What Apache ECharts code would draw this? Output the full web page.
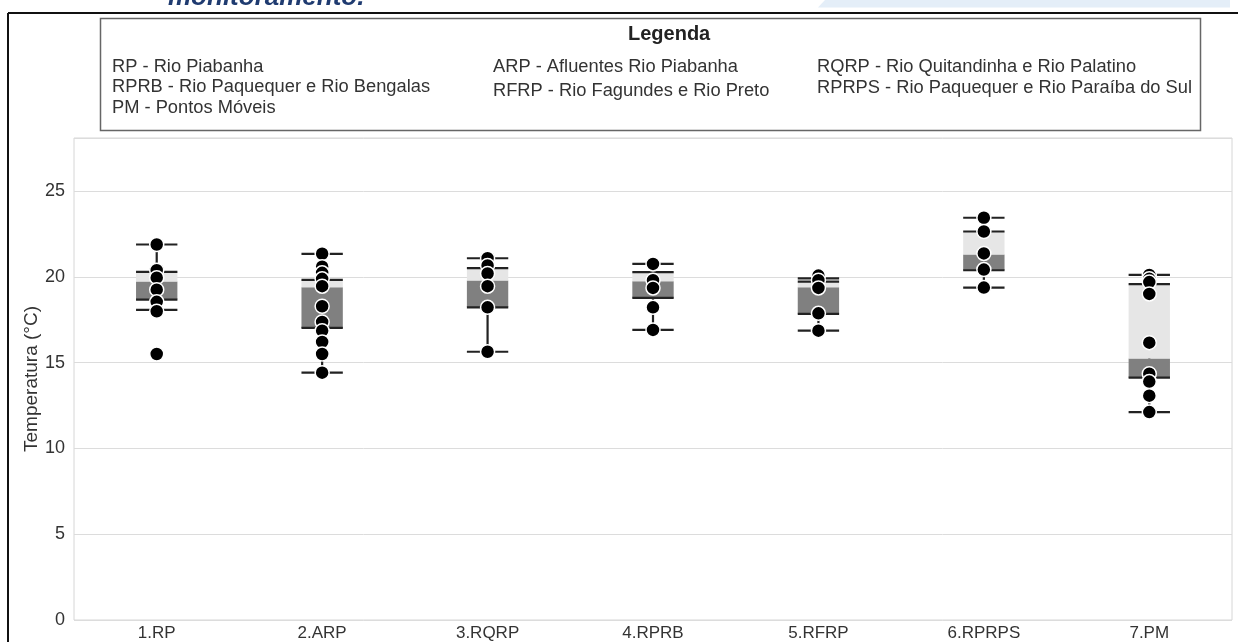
<!DOCTYPE html>
<html><head><meta charset="utf-8">
<script src="https://cdn.jsdelivr.net/npm/echarts@6/dist/echarts.min.js"></script>
<style>html,body{margin:0;padding:0;background:#fff}#c{width:1238px;height:642px}</style>
</head><body><div id="c"></div>
<script>
const categories = ['1.RP','2.ARP','3.RQRP','4.RPRB','5.RFRP','6.RPRPS','7.PM'];
const whiskerLow  = [18.08, 14.42, 15.64, 16.91, 16.87, 19.38, 12.12];
const q1          = [18.68, 17.03, 18.23, 18.78, 17.85, 20.39, 14.13];
const median      = [19.73, 19.40, 19.79, 19.75, 19.40, 21.31, 15.24];
const q3          = [20.30, 19.83, 20.51, 20.28, 19.73, 22.65, 19.58];
const whiskerHigh = [21.89, 21.35, 21.09, 20.76, 19.92, 23.45, 20.12];
const pointsRP    = [21.89, 20.39, 19.96, 19.26, 18.55, 18.0, 15.51];
const pointsARP   = [21.35, 20.6, 20.24, 19.89, 19.46, 18.29, 17.38, 16.87, 16.21, 15.51, 14.42];
const pointsRQRP  = [21.09, 20.67, 20.2, 19.46, 18.23, 15.64];
const pointsRPRB  = [20.76, 19.81, 19.36, 18.23, 16.91];
const pointsRFRP  = [20.08, 19.81, 19.36, 17.88, 16.87];
const pointsRPRPS = [23.45, 22.65, 21.37, 20.43, 19.38];
const pointsPM    = [20.12, 19.89, 19.7, 19.01, 16.17, 14.36, 13.9, 13.08, 12.12];
const yTicks = [0, 5, 10, 15, 20, 25];
const legendTitle = 'Legenda';
const legendCol1 = ['RP - Rio Piabanha', 'RPRB - Rio Paquequer e Rio Bengalas', 'PM - Pontos Móveis'];
const legendCol2 = ['ARP - Afluentes Rio Piabanha', 'RFRP - Rio Fagundes e Rio Preto'];
const legendCol3 = ['RQRP - Rio Quitandinha e Rio Palatino', 'RPRPS - Rio Paquequer e Rio Paraíba do Sul'];
const pageTitle = 'monitoramento.';

const allPoints = [pointsRP, pointsARP, pointsRQRP, pointsRPRB, pointsRFRP, pointsRPRPS, pointsPM];
const boxData = categories.map((c, i) => [i, whiskerLow[i], q1[i], median[i], q3[i], whiskerHigh[i]]);
const scatterData = [];
allPoints.forEach((arr, i) => arr.forEach(v => scatterData.push([i, v])));

const FONT = "'Liberation Sans', Arial, sans-serif";
const chart = echarts.init(document.getElementById('c'));

function legendTexts(col, x, ys) {
  return col.map((t, i) => ({
    type: 'text', left: x, top: ys[i] - 9,
    style: { text: t, fontSize: 18.3, fontFamily: FONT, fill: '#333' }, z: 10
  }));
}

chart.setOption({
  animation: false,
  backgroundColor: '#fff',
  textStyle: { fontFamily: FONT },
  grid: { left: 74, right: 6, top: 138, bottom: 22, show: true, borderColor: '#d6d6d6', borderWidth: 1 },
  xAxis: {
    type: 'category', data: categories,
    axisLine: { show: false }, axisTick: { show: false },
    axisLabel: { color: '#333', fontSize: 17, margin: 5, fontFamily: FONT },
    splitLine: { show: false }
  },
  yAxis: {
    type: 'value', min: 0, max: 28.1, interval: 5,
    axisLine: { show: false }, axisTick: { show: false },
    splitLine: { lineStyle: { color: '#dcdcdc', width: 1 } },
    axisLabel: { color: '#333', fontSize: 18, margin: 9, fontFamily: FONT,
      formatter: v => yTicks.indexOf(v) >= 0 ? String(v) : '' },
    name: 'Temperatura (°C)', nameLocation: 'middle', nameGap: 33, nameMoveOverlap: false,
    nameTextStyle: { color: '#333', fontSize: 19, fontFamily: FONT }
  },
  series: [
    {
      type: 'custom', data: boxData, z: 2,
      encode: { x: 0, y: [1, 2, 3, 4, 5] },
      renderItem: function (params, api) {
        const x = api.value(0);
        const pLow = api.coord([x, api.value(1)]);
        const pQ1 = api.coord([x, api.value(2)]);
        const pMed = api.coord([x, api.value(3)]);
        const pQ3 = api.coord([x, api.value(4)]);
        const pHigh = api.coord([x, api.value(5)]);
        const w = api.size([1, 0])[0] * 0.25;
        const cx = pLow[0], l = cx - w / 2, r = cx + w / 2;
        const ls = { stroke: '#222', lineWidth: 2.2 };
        return { type: 'group', children: [
          { type: 'line', shape: { x1: cx, y1: pLow[1], x2: cx, y2: pHigh[1] }, style: ls },
          { type: 'rect', shape: { x: l, y: pMed[1], width: w, height: pQ1[1] - pMed[1] }, style: { fill: '#808080' } },
          { type: 'rect', shape: { x: l, y: pQ3[1], width: w, height: pMed[1] - pQ3[1] }, style: { fill: '#e6e6e6' } },
          { type: 'line', shape: { x1: l, y1: pQ1[1], x2: r, y2: pQ1[1] }, style: ls },
          { type: 'line', shape: { x1: l, y1: pQ3[1], x2: r, y2: pQ3[1] }, style: ls },
          { type: 'line', shape: { x1: l, y1: pLow[1], x2: r, y2: pLow[1] }, style: ls },
          { type: 'line', shape: { x1: l, y1: pHigh[1], x2: r, y2: pHigh[1] }, style: ls }
        ] };
      }
    },
    {
      type: 'scatter', data: scatterData, z: 5,
      symbol: 'circle', symbolSize: 14,
      itemStyle: { color: '#000', borderColor: '#fff', borderWidth: 1.5, opacity: 1 }
    }
  ],
  graphic: [
    { type: 'polygon', shape: { points: [[825, 0], [1230, 0], [1230, 7.5], [818, 7.5]] }, style: { fill: '#e4eef8' }, z: 1 },
    { type: 'text', left: 168, top: -15, style: { text: pageTitle, fontSize: 26, fontWeight: 'bold', fontStyle: 'italic', fontFamily: FONT, fill: '#1f3b70' }, z: 2 },
    { type: 'line', shape: { x1: 8, y1: 13, x2: 1238, y2: 13 }, style: { stroke: '#111', lineWidth: 2 }, z: 3 },
    { type: 'line', shape: { x1: 8, y1: 13, x2: 8, y2: 642 }, style: { stroke: '#111', lineWidth: 2 }, z: 3 },
    { type: 'rect', shape: { x: 100.5, y: 18.5, width: 1100, height: 112 }, style: { fill: '#fff', stroke: '#666', lineWidth: 1.5 }, z: 3 },
    { type: 'text', left: 628, top: 24, style: { text: legendTitle, fontSize: 20, fontWeight: 'bold', fontFamily: FONT, fill: '#222' }, z: 10 },
    ...legendTexts(legendCol1, 112, [67, 87, 108]),
    ...legendTexts(legendCol2, 493, [67, 91]),
    ...legendTexts(legendCol3, 817, [67, 88])
  ]
});
</script></body></html>
